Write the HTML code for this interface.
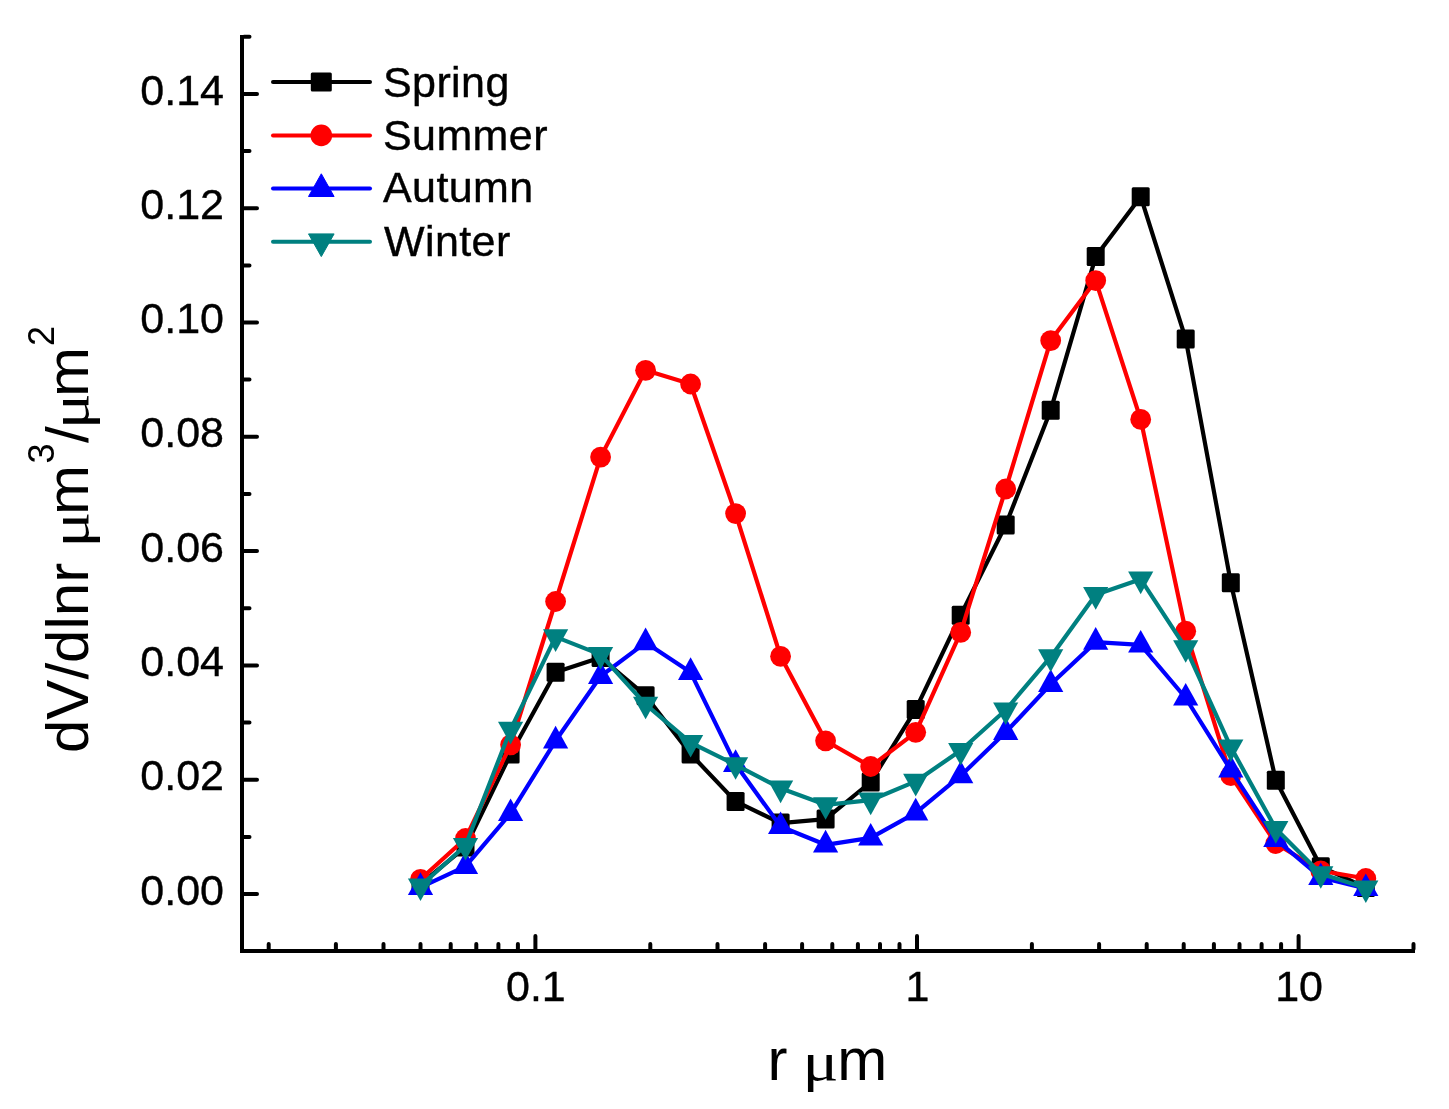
<!DOCTYPE html>
<html lang="en"><head><meta charset="utf-8"><title>dV/dlnr seasonal size distribution</title>
<style>html,body{margin:0;padding:0;background:#fff}svg{display:block}text{font-family:"Liberation Sans",Arial,sans-serif;fill:#000}.mu{font-family:"Liberation Serif","DejaVu Serif",serif}</style></head>
<body>
<svg width="1449" height="1109" viewBox="0 0 1449 1109">
<rect width="1449" height="1109" fill="#fff"/>
<g stroke="#000" stroke-width="4" stroke-linecap="round" fill="none">
<path d="M242 35V953M240 951H1415" stroke-linecap="butt"/>
<path d="M244 894H257M244 779.7H257M244 665.4H257M244 551.1H257M244 436.8H257M244 322.5H257M244 208.2H257M244 93.9H257M244 836.9H249.5M244 722.5H249.5M244 608.2H249.5M244 494H249.5M244 379.6H249.5M244 265.4H249.5M244 151H249.5M244 36.7H249.5"/>
<path d="M268.7 949V944M335.9 949V944M383.5 949V944M420.5 949V944M450.7 949V944M476.3 949V944M498.4 949V944M517.9 949V944M535.4 949V936M650.3 949V944M717.5 949V944M765.1 949V944M802.1 949V944M832.3 949V944M857.9 949V944M880 949V944M899.5 949V944M917 949V936M1031.9 949V944M1099.1 949V944M1146.7 949V944M1183.7 949V944M1213.9 949V944M1239.5 949V944M1261.6 949V944M1281.1 949V944M1298.6 949V936M1413.5 949V944"/>
</g>
<g font-size="43" text-anchor="end" stroke="#000" stroke-width="0.4">
<text x="224" y="904.6">0.00</text><text x="224" y="790.3">0.02</text><text x="224" y="676">0.04</text><text x="224" y="561.7">0.06</text><text x="224" y="447.4">0.08</text><text x="224" y="333.1">0.10</text><text x="224" y="218.8">0.12</text><text x="224" y="104.5">0.14</text>
</g>
<g font-size="43" text-anchor="middle" stroke="#000" stroke-width="0.4">
<text x="535.9" y="1001">0.1</text><text x="917.5" y="1001">1</text><text x="1299.1" y="1001">10</text>
</g>
<g font-size="60"><text x="767.4" y="1080">r</text><text class="mu" transform="translate(802.6 1080) scale(1.12 0.925)">μ</text><text x="837.3" y="1080">m</text></g>
<g font-size="60" transform="translate(88.4 753) rotate(-90)"><text x="0" y="0">dV/dlnr</text><text class="mu" transform="translate(205.3 0) scale(1.12 0.925)">μ</text><text x="238" y="0">m</text><text x="289.5" y="-34.5" font-size="36">3</text><text x="310" y="0">/</text><text class="mu" transform="translate(323.7 0) scale(1.12 0.925)">μ</text><text x="356" y="0">m</text><text x="407" y="-34.5" font-size="36">2</text></g>
<g fill="#000" stroke="none"><polyline points="420.5,884.2 465.5,847 510.6,754 555.6,672.3 600.6,657.5 645.6,695.7 690.6,754 735.6,801.4 780.6,823.1 825.6,819.1 870.7,782 915.7,709.4 960.7,615.2 1005.7,525 1050.7,410.2 1095.7,256.6 1140.7,196.7 1185.7,338.9 1230.8,582.7 1275.8,780.2 1320.8,866.7 1365.8,887.6" fill="none" stroke="#000" stroke-width="4.2" stroke-linejoin="round" stroke-linecap="round"/><rect x="411.5" y="874.7" width="18" height="19" rx="1.5"/><rect x="456.5" y="837.5" width="18" height="19" rx="1.5"/><rect x="501.6" y="744.5" width="18" height="19" rx="1.5"/><rect x="546.6" y="662.8" width="18" height="19" rx="1.5"/><rect x="591.6" y="648" width="18" height="19" rx="1.5"/><rect x="636.6" y="686.2" width="18" height="19" rx="1.5"/><rect x="681.6" y="744.5" width="18" height="19" rx="1.5"/><rect x="726.6" y="791.9" width="18" height="19" rx="1.5"/><rect x="771.6" y="813.6" width="18" height="19" rx="1.5"/><rect x="816.6" y="809.6" width="18" height="19" rx="1.5"/><rect x="861.7" y="772.5" width="18" height="19" rx="1.5"/><rect x="906.7" y="699.9" width="18" height="19" rx="1.5"/><rect x="951.7" y="605.7" width="18" height="19" rx="1.5"/><rect x="996.7" y="515.5" width="18" height="19" rx="1.5"/><rect x="1041.7" y="400.7" width="18" height="19" rx="1.5"/><rect x="1086.7" y="247.1" width="18" height="19" rx="1.5"/><rect x="1131.7" y="187.2" width="18" height="19" rx="1.5"/><rect x="1176.7" y="329.4" width="18" height="19" rx="1.5"/><rect x="1221.8" y="573.2" width="18" height="19" rx="1.5"/><rect x="1266.8" y="770.7" width="18" height="19" rx="1.5"/><rect x="1311.8" y="857.2" width="18" height="19" rx="1.5"/><rect x="1356.8" y="878.1" width="18" height="19" rx="1.5"/></g>
<g fill="#f00" stroke="none"><polyline points="420.5,879.3 465.5,838.5 510.6,744.8 555.6,601.5 600.6,457.1 645.6,370.3 690.6,384 735.6,513.6 780.6,656.3 825.6,740.8 870.7,766.5 915.7,732.3 960.7,632.4 1005.7,489 1050.7,340.6 1095.7,280.6 1140.7,419.4 1185.7,631.2 1230.8,775.7 1275.8,843.5 1320.8,870.8 1365.8,878.5" fill="none" stroke="#f00" stroke-width="4.2" stroke-linejoin="round" stroke-linecap="round"/><circle cx="420.5" cy="879.3" r="10.4"/><circle cx="465.5" cy="838.5" r="10.4"/><circle cx="510.6" cy="744.8" r="10.4"/><circle cx="555.6" cy="601.5" r="10.4"/><circle cx="600.6" cy="457.1" r="10.4"/><circle cx="645.6" cy="370.3" r="10.4"/><circle cx="690.6" cy="384" r="10.4"/><circle cx="735.6" cy="513.6" r="10.4"/><circle cx="780.6" cy="656.3" r="10.4"/><circle cx="825.6" cy="740.8" r="10.4"/><circle cx="870.7" cy="766.5" r="10.4"/><circle cx="915.7" cy="732.3" r="10.4"/><circle cx="960.7" cy="632.4" r="10.4"/><circle cx="1005.7" cy="489" r="10.4"/><circle cx="1050.7" cy="340.6" r="10.4"/><circle cx="1095.7" cy="280.6" r="10.4"/><circle cx="1140.7" cy="419.4" r="10.4"/><circle cx="1185.7" cy="631.2" r="10.4"/><circle cx="1230.8" cy="775.7" r="10.4"/><circle cx="1275.8" cy="843.5" r="10.4"/><circle cx="1320.8" cy="870.8" r="10.4"/><circle cx="1365.8" cy="878.5" r="10.4"/></g>
<g fill="#00f" stroke="none"><polyline points="420.5,887.3 465.5,866.3 510.6,813.4 555.6,740.8 600.6,676.3 645.6,642.6 690.6,672.3 735.6,764.3 780.6,826.5 825.6,844.8 870.7,837.9 915.7,812.8 960.7,775.7 1005.7,732.3 1050.7,684.3 1095.7,642.1 1140.7,644.9 1185.7,698 1230.8,770 1275.8,839.4 1320.8,877.5 1365.8,888.4" fill="none" stroke="#00f" stroke-width="4.2" stroke-linejoin="round" stroke-linecap="round"/><path d="M420.5 872.3L433.1 894.9H407.9Z"/><path d="M465.5 851.3L478.1 873.9H452.9Z"/><path d="M510.6 798.4L523.2 821H498Z"/><path d="M555.6 725.8L568.2 748.4H543Z"/><path d="M600.6 661.3L613.2 683.9H588Z"/><path d="M645.6 627.6L658.2 650.2H633Z"/><path d="M690.6 657.3L703.2 679.9H678Z"/><path d="M735.6 749.3L748.2 771.9H723Z"/><path d="M780.6 811.5L793.2 834.1H768Z"/><path d="M825.6 829.8L838.2 852.4H813Z"/><path d="M870.7 822.9L883.3 845.5H858.1Z"/><path d="M915.7 797.8L928.3 820.4H903.1Z"/><path d="M960.7 760.7L973.3 783.3H948.1Z"/><path d="M1005.7 717.3L1018.3 739.9H993.1Z"/><path d="M1050.7 669.3L1063.3 691.9H1038.1Z"/><path d="M1095.7 627.1L1108.3 649.7H1083.1Z"/><path d="M1140.7 629.9L1153.3 652.5H1128.1Z"/><path d="M1185.7 683L1198.3 705.6H1173.1Z"/><path d="M1230.8 755L1243.4 777.6H1218.2Z"/><path d="M1275.8 824.4L1288.4 847H1263.2Z"/><path d="M1320.8 862.5L1333.4 885.1H1308.2Z"/><path d="M1365.8 873.4L1378.4 896H1353.2Z"/></g>
<g fill="#008080" stroke="none"><polyline points="420.5,886 465.5,845.5 510.6,729.4 555.6,636.9 600.6,654.6 645.6,704.3 690.6,742.6 735.6,764.8 780.6,788.2 825.6,804.8 870.7,800.2 915.7,781.4 960.7,750.5 1005.7,710 1050.7,656.9 1095.7,594.7 1140.7,579.2 1185.7,647.8 1230.8,747.1 1275.8,828.7 1320.8,873.8 1365.8,888.1" fill="none" stroke="#008080" stroke-width="4.2" stroke-linejoin="round" stroke-linecap="round"/><path d="M420.5 901L433.1 878.4H407.9Z"/><path d="M465.5 860.5L478.1 837.9H452.9Z"/><path d="M510.6 744.4L523.2 721.8H498Z"/><path d="M555.6 651.9L568.2 629.3H543Z"/><path d="M600.6 669.6L613.2 647H588Z"/><path d="M645.6 719.3L658.2 696.7H633Z"/><path d="M690.6 757.6L703.2 735H678Z"/><path d="M735.6 779.8L748.2 757.2H723Z"/><path d="M780.6 803.2L793.2 780.6H768Z"/><path d="M825.6 819.8L838.2 797.2H813Z"/><path d="M870.7 815.2L883.3 792.6H858.1Z"/><path d="M915.7 796.4L928.3 773.8H903.1Z"/><path d="M960.7 765.5L973.3 742.9H948.1Z"/><path d="M1005.7 725L1018.3 702.4H993.1Z"/><path d="M1050.7 671.9L1063.3 649.3H1038.1Z"/><path d="M1095.7 609.7L1108.3 587.1H1083.1Z"/><path d="M1140.7 594.2L1153.3 571.6H1128.1Z"/><path d="M1185.7 662.8L1198.3 640.2H1173.1Z"/><path d="M1230.8 762.1L1243.4 739.5H1218.2Z"/><path d="M1275.8 843.7L1288.4 821.1H1263.2Z"/><path d="M1320.8 888.8L1333.4 866.2H1308.2Z"/><path d="M1365.8 903.1L1378.4 880.5H1353.2Z"/></g>
<g fill="#000"><path d="M273 82H370" stroke="#000" stroke-width="4" stroke-linecap="round"/><rect x="310.8" y="72.5" width="21" height="19" rx="1.5"/></g><text x="383" y="97" font-size="43" letter-spacing="0.4" stroke="#000" stroke-width="0.4">Spring</text>
<g fill="#f00"><path d="M273 135.4H370" stroke="#f00" stroke-width="4" stroke-linecap="round"/><circle cx="321.3" cy="135.4" r="10.8"/></g><text x="383" y="150.2" font-size="43" letter-spacing="0.4" stroke="#000" stroke-width="0.4">Summer</text>
<g fill="#00f"><path d="M273 188.6H370" stroke="#00f" stroke-width="4" stroke-linecap="round"/><path d="M321.3 173.8L334.1 196.5H308.5Z" stroke-width="1" stroke-linejoin="round" stroke="#00f"/></g><text x="383" y="202.2" font-size="43" letter-spacing="0.4" stroke="#000" stroke-width="0.4">Autumn</text>
<g fill="#008080"><path d="M273 241.8H370" stroke="#008080" stroke-width="4" stroke-linecap="round"/><path d="M321.3 256.6L334.1 233.9H308.5Z" stroke-width="1" stroke-linejoin="round" stroke="#008080"/></g><text x="384" y="255.6" font-size="43" letter-spacing="0.4" stroke="#000" stroke-width="0.4">Winter</text>
</svg>
</body></html>
